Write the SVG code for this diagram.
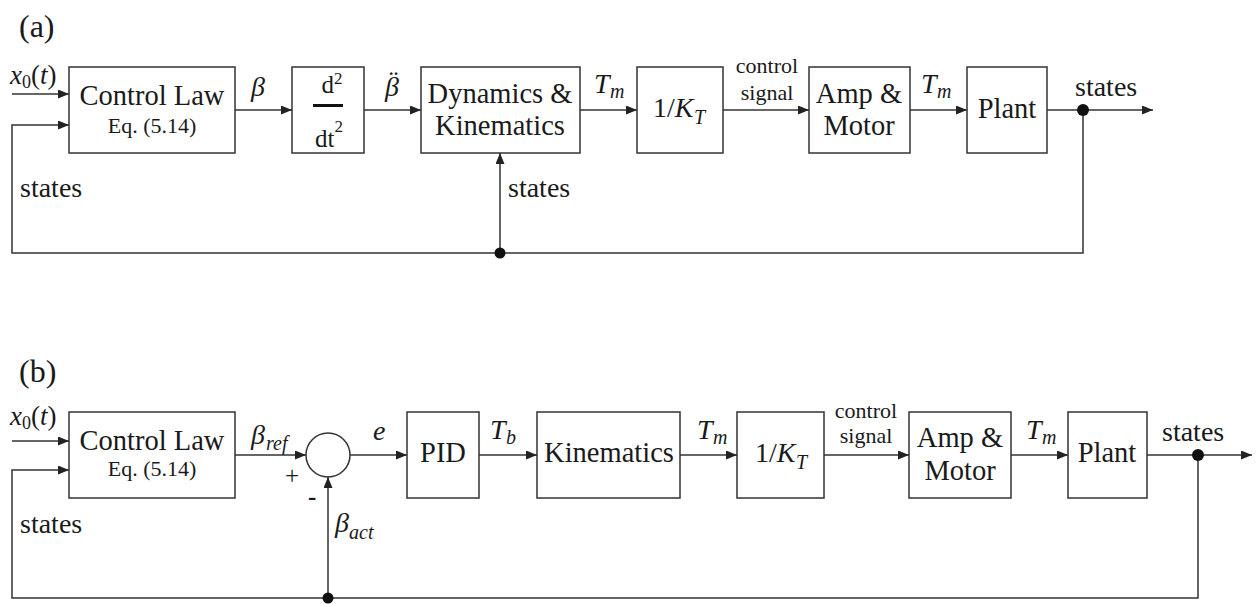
<svg xmlns="http://www.w3.org/2000/svg" width="1256" height="604" viewBox="0 0 1256 604" font-family="'Liberation Serif','DejaVu Serif','Times New Roman',serif">
<defs>
<marker id="ah" markerUnits="userSpaceOnUse" markerWidth="11" markerHeight="9" refX="11" refY="4.5" orient="auto">
<path d="M0,0 L11,4.5 L0,9 z" fill="#222"/>
</marker>
<style>
text{font-family:'Liberation Serif','DejaVu Serif','Times New Roman',serif;fill:#1a1a1a}
.bx{fill:#fff;stroke:#333;stroke-width:1.5}
.t{font-size:28.5px;text-anchor:middle}
.s{font-size:22px;text-anchor:middle}
.l{font-size:28px}
.i{font-style:italic}
.sub{font-size:20px;font-style:italic}
.cs{font-size:22px;text-anchor:middle}
.c{fill:none;stroke:#333;stroke-width:1.5}
.a{marker-end:url(#ah)}
.d{fill:#111}
</style>
</defs>
<rect width="1256" height="604" fill="#fff"/>

<!-- Panel (a) -->
<text x="19" y="37" style="font-size:32px">(a)</text>
<g id="a_control_law"><rect class="bx" x="69" y="67" width="166" height="86"/><text class="t" x="152" y="105">Control Law</text><text class="s" x="152" y="133">Eq. (5.14)</text></g>
<g id="a_deriv"><rect class="bx" x="292" y="67" width="72" height="86"/><text x="332" y="93" style="font-size:25px;text-anchor:middle">d<tspan style="font-size:17px" dy="-9">2</tspan></text><rect x="313" y="104" width="30" height="3" fill="#111"/><text x="329" y="147" style="font-size:25px;text-anchor:middle">dt<tspan style="font-size:17px" dy="-15">2</tspan></text></g>
<g id="a_dynamics"><rect class="bx" x="421" y="67" width="159" height="86"/><text class="t" x="500" y="103">Dynamics &amp;</text><text class="t" x="500" y="135">Kinematics</text></g>
<g id="a_kt"><rect class="bx" x="637" y="67" width="86" height="86"/><text x="653" y="117" style="font-size:28px">1/<tspan class="i">K</tspan></text><text x="694" y="124" style="font-size:20px;font-style:italic">T</text></g>
<g id="a_amp"><rect class="bx" x="809" y="67" width="101" height="86"/><text class="t" x="859" y="103">Amp &amp;</text><text class="t" x="859" y="135">Motor</text></g>
<g id="a_plant"><rect class="bx" x="967" y="67" width="80" height="86"/><text class="t" x="1007" y="118">Plant</text></g>

<g id="a_connectors">
<path class="c a" d="M12,94 H69"/>
<path class="c a" d="M1083,110 V253 H12 V125 H69"/>
<path class="c a" d="M500,253 V153"/>
<path class="c a" d="M235,110 H292"/>
<path class="c a" d="M364,110 H421"/>
<path class="c a" d="M580,110 H637"/>
<path class="c a" d="M723,110 H809"/>
<path class="c a" d="M910,110 H967"/>
<path class="c a" d="M1047,110 H1153"/>
<circle class="d" cx="1083" cy="110" r="6"/>
<circle class="d" cx="500" cy="253" r="5.5"/>
</g>
<g id="a_labels">
<text class="l" x="10" y="84" style="font-size:27px"><tspan class="i">x</tspan><tspan style="font-size:18px" dy="4">0</tspan><tspan dy="-4">(</tspan><tspan class="i">t</tspan>)</text>
<text class="l i" x="251" y="96">β</text>
<text class="l i" x="385" y="96">β<tspan dx="-12" dy="-6">¨</tspan></text>
<text class="l i" x="594" y="93">T</text><text class="sub" x="610" y="98">m</text>
<text class="cs" x="767" y="73">control</text>
<text class="cs" x="767" y="100">signal</text>
<text class="l i" x="921" y="93">T</text><text class="sub" x="937" y="98">m</text>
<text class="l" x="1075" y="96">states</text>
<text class="l" x="508" y="197">states</text>
<text class="l" x="20" y="197">states</text>
</g>

<!-- Panel (b) -->
<text x="19" y="382" style="font-size:32px">(b)</text>
<g id="b_control_law"><rect class="bx" x="69" y="412" width="166" height="86"/><text class="t" x="152" y="450">Control Law</text><text class="s" x="152" y="476">Eq. (5.14)</text></g>
<g id="b_sum"><circle class="c" cx="328" cy="455" r="22" fill="#fff"/><text x="285" y="484" style="font-size:25px">+</text><text x="308" y="505" style="font-size:25px;font-weight:bold">-</text></g>
<g id="b_pid"><rect class="bx" x="407" y="412" width="72" height="86"/><text class="t" x="443" y="462">PID</text></g>
<g id="b_kinematics"><rect class="bx" x="537" y="412" width="143" height="86"/><text class="t" x="609" y="462">Kinematics</text></g>
<g id="b_kt"><rect class="bx" x="737" y="412" width="87" height="86"/><text x="755" y="462" style="font-size:28px">1/<tspan class="i">K</tspan></text><text x="796" y="469" style="font-size:20px;font-style:italic">T</text></g>
<g id="b_amp"><rect class="bx" x="909" y="412" width="102" height="86"/><text class="t" x="960" y="447">Amp &amp;</text><text class="t" x="960" y="480">Motor</text></g>
<g id="b_plant"><rect class="bx" x="1068" y="412" width="79" height="86"/><text class="t" x="1107" y="462">Plant</text></g>

<g id="b_connectors">
<path class="c a" d="M12,441 H69"/>
<path class="c a" d="M1198,455 V598 H12 V470 H69"/>
<path class="c a" d="M328,598 V477"/>
<path class="c a" d="M235,455 H306"/>
<path class="c a" d="M350,455 H407"/>
<path class="c a" d="M479,455 H537"/>
<path class="c a" d="M680,455 H737"/>
<path class="c a" d="M824,455 H909"/>
<path class="c a" d="M1011,455 H1068"/>
<path class="c a" d="M1147,455 H1252"/>
<circle class="d" cx="1198" cy="455" r="6"/>
<circle class="d" cx="328" cy="598" r="5.5"/>
</g>
<g id="b_labels">
<text class="l" x="10" y="425" style="font-size:27px"><tspan class="i">x</tspan><tspan style="font-size:18px" dy="4">0</tspan><tspan dy="-4">(</tspan><tspan class="i">t</tspan>)</text>
<text class="l i" x="251" y="444">β</text><text class="sub" x="266" y="450">ref</text>
<text class="l i" x="373" y="440">e</text>
<text class="l i" x="490" y="439">T</text><text class="sub" x="506" y="444">b</text>
<text class="l i" x="697" y="439">T</text><text class="sub" x="713" y="444">m</text>
<text class="cs" x="866" y="418">control</text>
<text class="cs" x="866" y="443">signal</text>
<text class="l i" x="1026" y="439">T</text><text class="sub" x="1042" y="444">m</text>
<text class="l" x="1162" y="441">states</text>
<text class="l" x="20" y="533">states</text>
<text class="l i" x="335" y="532">β</text><text class="sub" x="349" y="539">act</text>
</g>
</svg>
